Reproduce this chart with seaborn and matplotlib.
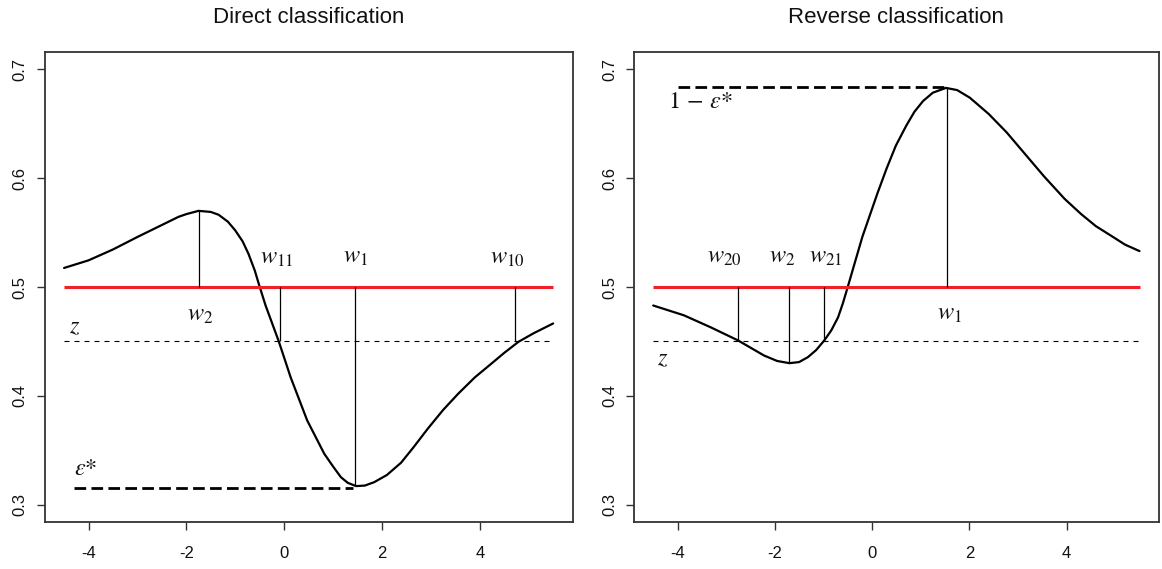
import numpy as np
import pandas as pd
import matplotlib
matplotlib.use("Agg")
import matplotlib.pyplot as plt
import seaborn as sns

# ---------------- data ----------------
x_direct = [-4.5, -4.0, -3.5, -3.0, -2.5, -2.16, -2.0, -1.75, -1.5, -1.34, -1.15, -1.0,
            -0.85, -0.73, -0.6, -0.52, -0.38, -0.11, 0.13, 0.47, 0.82, 1.0, 1.16, 1.3,
            1.47, 1.65, 1.84, 2.1, 2.39, 2.65, 2.94, 3.25, 3.56, 3.9, 4.24, 4.5, 4.79,
            5.1, 5.5]
y_direct = [0.5175, 0.5245, 0.5345, 0.546, 0.557, 0.5645, 0.567, 0.570, 0.569, 0.5664,
            0.560, 0.552, 0.542, 0.5305, 0.515, 0.503, 0.483, 0.450, 0.4173, 0.3774,
            0.3467, 0.3350, 0.3252, 0.3200, 0.3170, 0.3175, 0.3206, 0.3272, 0.3385,
            0.353, 0.3700, 0.387, 0.402, 0.417, 0.4297, 0.4395, 0.4496, 0.4575, 0.4665]

x_reverse = [-4.5, -3.87, -3.32, -2.76, -2.22, -1.95, -1.70, -1.5, -1.32, -1.15, -0.98,
             -0.84, -0.70, -0.6, -0.5, -0.35, -0.2, 0.11, 0.3, 0.49, 0.7, 0.87, 1.05,
             1.25, 1.52, 1.75, 2.01, 2.4, 2.77, 3.15, 3.54, 3.96, 4.3, 4.6, 4.92, 5.2,
             5.5]
y_reverse = [0.483, 0.474, 0.463, 0.451, 0.437, 0.432, 0.430, 0.431, 0.4355, 0.442,
             0.451, 0.460, 0.472, 0.485, 0.500, 0.523, 0.546, 0.586, 0.609, 0.630,
             0.648, 0.661, 0.671, 0.6786, 0.683, 0.681, 0.674, 0.659, 0.642, 0.622,
             0.6015, 0.581, 0.567, 0.556, 0.547, 0.539, 0.533]

threshold = 0.5
z_level = 0.45
eps_star = 0.315
one_minus_eps = 0.684
x_range = [-4.5, 5.5]

direct_names = [r"$w_2$", r"$w_{11}$", r"$w_1$", r"$w_{10}$"]
direct_w = [-1.74, -0.095, 1.45, 4.72]
direct_from = [0.5, 0.45, 0.317, 0.45]
direct_to = [0.570, 0.5, 0.5, 0.5]

reverse_names = [r"$w_{20}$", r"$w_2$", r"$w_{21}$", r"$w_1$"]
reverse_w = [-2.76, -1.70, -0.98, 1.54]
reverse_from = [0.45, 0.43, 0.45, 0.5]
reverse_to = [0.5, 0.5, 0.5, 0.683]

titles = ["Direct classification", "Reverse classification"]
x_ticks = [-4, -2, 0, 2, 4]
y_ticks = [0.3, 0.4, 0.5, 0.6, 0.7]
y_tick_labels = ["0.3", "0.4", "0.5", "0.6", "0.7"]

# ---------------- style ----------------
sns.set_style("ticks")
plt.rcParams["font.family"] = ["Liberation Sans", "DejaVu Sans"]
plt.rcParams["mathtext.fontset"] = "stix"

fig = plt.figure(figsize=(11.62, 5.69), dpi=100)
axL = fig.add_axes([0.0383, 0.0826, 0.4546, 0.826])
axR = fig.add_axes([0.5454, 0.0826, 0.452, 0.826])

RED = "#f0202a"
label_kw = dict(fontsize=17.5, ha="center", va="center", color="#111111")


def base(ax, title, xs, ys):
    df = pd.DataFrame({"x": xs, "y": ys})
    sns.lineplot(data=df, x="x", y="y", ax=ax, color="black", lw=1.6, sort=False)
    ax.plot(x_range, [threshold, threshold], color=RED, lw=2.2, solid_capstyle="butt")
    ax.plot(x_range, [z_level, z_level], color="black", lw=0.8, ls=(0, (4.5, 4.5)))
    ax.set_xlim(-4.9, 5.9)
    ax.set_ylim(0.284, 0.716)
    ax.set_xticks(x_ticks)
    ax.set_xticklabels([str(t) for t in x_ticks])
    ax.set_yticks(y_ticks)
    ax.set_yticklabels(y_tick_labels, rotation=90, va="center")
    ax.tick_params(axis="both", length=6, width=1.0, color="#333333", labelsize=12,
                   labelcolor="#111111")
    ax.tick_params(axis="x", pad=11)
    ax.tick_params(axis="y", pad=6)
    ax.set_xlabel("")
    ax.set_ylabel("")
    for s in ax.spines.values():
        s.set_visible(True)
        s.set_color("#333333")
        s.set_linewidth(1.3)
    ax.set_title(title, fontsize=16, pad=21, color="#111111")


base(axL, titles[0], x_direct, y_direct)
base(axR, titles[1], x_reverse, y_reverse)

# vertical markers
axL.vlines(direct_w, direct_from, direct_to, color="black", lw=0.9)
axR.vlines(reverse_w, reverse_from, reverse_to, color="black", lw=0.9)

# thick dashed lines
axL.plot([-4.3, 1.4], [eps_star, eps_star], color="black", lw=2.0, ls=(0, (4.2, 1.9)))
axR.plot([-4.0, 1.5], [one_minus_eps, one_minus_eps], color="black", lw=2.0,
         ls=(0, (4.2, 1.9)))

# labels, left
left_pos = [(-1.72, 0.474), (-0.15, 0.527), (1.45, 0.528), (4.57, 0.527)]
for name, (px, py) in zip(direct_names, left_pos):
    axL.text(px, py, name, **label_kw)
axL.text(-4.29, 0.463, r"$z$", **label_kw)
axL.text(-4.05, 0.333, r"$\varepsilon{*}$", **label_kw)

# labels, right
right_pos = [(-3.03, 0.5276), (-1.84, 0.5276), (-0.95, 0.5276), (1.60, 0.475)]
for name, (px, py) in zip(reverse_names, right_pos):
    axR.text(px, py, name, **label_kw)
axR.text(-4.31, 0.434, r"$z$", **label_kw)
axR.text(-3.52, 0.670, r"$1\,-\,\varepsilon{*}$", **label_kw)

fig.savefig("out.png", dpi=100)
